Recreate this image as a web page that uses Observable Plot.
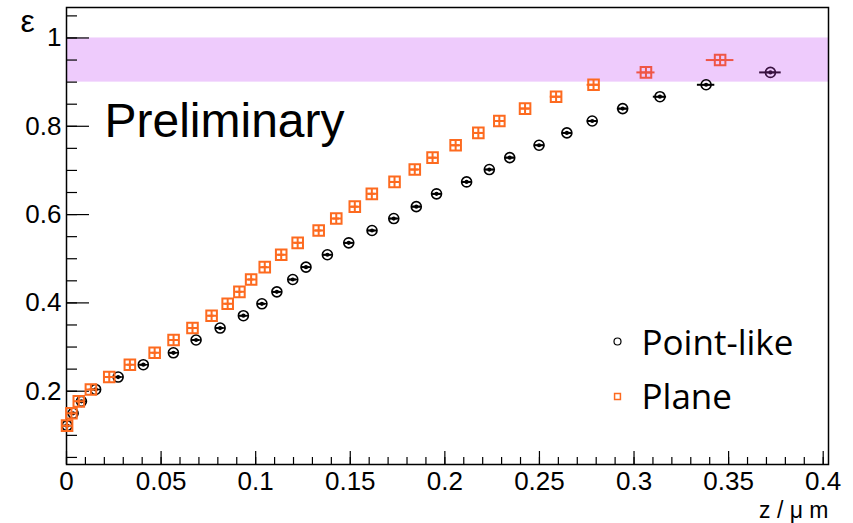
<!DOCTYPE html>
<html><head><meta charset="utf-8">
<script src="https://cdn.jsdelivr.net/npm/d3@7"></script>
<script src="https://cdn.jsdelivr.net/npm/@observablehq/plot@0.6"></script>
<style>body{margin:0;background:#fff;} #chart{width:853px;height:523px;}</style>
</head><body><div id="chart"></div>
<script>
// Efficiency levels (y) shared by both series
const effLevels = [0.122, 0.150, 0.177, 0.204, 0.232, 0.260, 0.287, 0.316, 0.343, 0.371,
  0.398, 0.425, 0.453, 0.481, 0.509, 0.536, 0.564, 0.591, 0.618, 0.647,
  0.674, 0.702, 0.729, 0.757, 0.785, 0.812, 0.840, 0.867, 0.894, 0.922, 0.950];
// Plane series: z positions and horizontal errors
const planeZ = [0.0003, 0.0026, 0.0065, 0.0129, 0.0226, 0.0335, 0.0466, 0.0566, 0.0666, 0.0767,
  0.0852, 0.0914, 0.0976, 0.1048, 0.1135, 0.1222, 0.1333, 0.1426, 0.1524, 0.1614,
  0.1734, 0.1841, 0.1935, 0.2057, 0.2177, 0.2288, 0.2424, 0.2588, 0.2786, 0.3063, 0.3455];
const planeZErr = [0.0008, 0.0008, 0.0010, 0.0010, 0.0012, 0.0012, 0.0013, 0.0013, 0.0014, 0.0014,
  0.0014, 0.0015, 0.0015, 0.0015, 0.0016, 0.0016, 0.0017, 0.0017, 0.0018, 0.0018,
  0.0019, 0.0020, 0.0020, 0.0021, 0.0022, 0.0023, 0.0025, 0.0031, 0.0034, 0.0048, 0.0073];
// Point-like series
const pointZ = [0.0003, 0.0035, 0.0079, 0.0154, 0.0273, 0.0406, 0.0565, 0.0685, 0.0812, 0.0935,
  0.1033, 0.1112, 0.1196, 0.1266, 0.1379, 0.1492, 0.1615, 0.1730, 0.1849, 0.1956,
  0.2115, 0.2235, 0.2343, 0.2498, 0.2645, 0.2779, 0.2940, 0.3137, 0.3381, 0.3721];
const pointZErr = [0.0015, 0.0015, 0.0016, 0.0016, 0.0017, 0.0017, 0.0018, 0.0018, 0.0019, 0.0019,
  0.0019, 0.0020, 0.0020, 0.0020, 0.0021, 0.0021, 0.0022, 0.0022, 0.0022, 0.0023,
  0.0023, 0.0024, 0.0024, 0.0025, 0.0025, 0.0026, 0.0028, 0.0035, 0.0046, 0.0057];
// Bins with low statistics (drawn in a different shade)
const planeLowStat = [29, 30];
const pointLowStat = [29];
// Target band
const bandRange = [0.9, 1.0];
// Axes
const xDomain = [0, 0.4028];
const yDomain = [0.034, 1.069];
const xMajorTicks = [0, 0.05, 0.1, 0.15, 0.2, 0.25, 0.3, 0.35, 0.4];
const yMajorTicks = [0.2, 0.4, 0.6, 0.8, 1];
const seriesNames = ["Point-like", "Plane"];

const W = 853, H = 523, mL = 66, mR = 25, mT = 7, mB = 59;
const frameW = W - mL - mR, frameH = H - mT - mB;

const plane = planeZ.map((z, i) => ({z, eff: effLevels[i], err: planeZErr[i], low: planeLowStat.includes(i)}));
const point = pointZ.map((z, i) => ({z, eff: effLevels[i], err: pointZErr[i], low: pointLowStat.includes(i)}));

const ORANGE = "#fd6a1f", RED = "#ef5646", BLACK = "#000", PURPLE = "#38113f";
const planeColor = d => d.low ? RED : ORANGE;
const pointColor = d => d.low ? PURPLE : BLACK;

const squareCross = {
  draw(ctx, size) {
    const r = Math.sqrt(size / Math.PI);
    ctx.moveTo(-r, -r); ctx.lineTo(r, -r); ctx.lineTo(r, r); ctx.lineTo(-r, r); ctx.closePath();
    ctx.moveTo(-r, 0); ctx.lineTo(r, 0);
    ctx.moveTo(0, -r); ctx.lineTo(0, r);
  }
};
const circleDot = {
  draw(ctx, size) {
    const r = Math.sqrt(size / Math.PI);
    ctx.moveTo(r, 0); ctx.arc(0, 0, r, 0, 2 * Math.PI);
    ctx.moveTo(-r, 0); ctx.lineTo(r, 0);
    ctx.moveTo(1.3, 0); ctx.arc(0, 0, 1.3, 0, 2 * Math.PI);
  }
};

const xMinor = d3.range(0, 41).map(i => i / 100);
const yMinor = d3.range(1, 22).map(i => +(i * 0.05).toFixed(2));

const chart = Plot.plot({
  width: W, height: H,
  marginLeft: mL, marginRight: mR, marginTop: mT, marginBottom: mB,
  x: {domain: xDomain},
  y: {domain: yDomain},
  style: {fontFamily: "'Liberation Sans', Arial, sans-serif", fontSize: "26px", background: "white", color: "black"},
  marks: [
    Plot.rect([bandRange], {y1: d => d[0], y2: d => d[1], fill: "#eecbfc"}),
    // inward ticks
    Plot.tickY(yMinor, {y: d => d, stroke: "black", strokeWidth: 1.2, insetRight: frameW - 11}),
    Plot.tickY(yMajorTicks, {y: d => d, stroke: "black", strokeWidth: 1.2, insetRight: frameW - 23}),
    Plot.tickX(xMinor, {x: d => d, stroke: "black", strokeWidth: 1.2, insetTop: frameH - 7}),
    Plot.tickX(xMajorTicks, {x: d => d, stroke: "black", strokeWidth: 1.2, insetTop: frameH - 13}),
    Plot.frame({stroke: "black", strokeWidth: 1.5}),
    Plot.axisX(xMajorTicks, {tickSize: 0, tickPadding: 7, label: null, tickFormat: d => String(d)}),
    Plot.axisY(yMajorTicks, {tickSize: 0, tickPadding: 5, label: null, tickFormat: d => String(d)}),
    // Point-like
    Plot.ruleY(point, {y: "eff", x1: d => d.z - d.err, x2: d => d.z + d.err, stroke: pointColor, strokeWidth: 2}),
    Plot.dot(point, {x: "z", y: "eff", symbol: circleDot, r: 5, stroke: pointColor, strokeWidth: 1.6, fill: "none"}),
    // Plane
    Plot.ruleY(plane, {y: "eff", x1: d => d.z - d.err, x2: d => d.z + d.err, stroke: planeColor, strokeWidth: 2}),
    Plot.dot(plane, {x: "z", y: "eff", symbol: squareCross, r: 5.3, stroke: planeColor, strokeWidth: 2, fill: "none"}),
    // Texts
    Plot.text(["Preliminary"], {frameAnchor: "top-left", dx: 38, dy: 129, textAnchor: "start", lineAnchor: "bottom", fontSize: 48}),
    Plot.text(["ε"], {frameAnchor: "top-left", dx: -39, dy: 24, textAnchor: "middle", lineAnchor: "bottom", fontSize: 32}),
    Plot.text(["z / μ m"], {frameAnchor: "bottom-right", dx: 0, dy: 53, textAnchor: "end", lineAnchor: "bottom", fontSize: 23}),
    // Legend
    Plot.dot([seriesNames[0]], {frameAnchor: "bottom-right", dx: -211, dy: -123, symbol: "circle", r: 3.5, stroke: BLACK, strokeWidth: 1.2}),
    Plot.dot([seriesNames[1]], {frameAnchor: "bottom-right", dx: -211, dy: -68, symbol: "square", r: 3.3, stroke: ORANGE, strokeWidth: 1.5}),
    Plot.text([seriesNames[0]], {frameAnchor: "bottom-right", dx: -187, dy: -110, textAnchor: "start", lineAnchor: "bottom", fontSize: 35, fontFamily: "'Open Sans', sans-serif"}),
    Plot.text([seriesNames[1]], {frameAnchor: "bottom-right", dx: -187, dy: -56, textAnchor: "start", lineAnchor: "bottom", fontSize: 35, fontFamily: "'Open Sans', sans-serif"})
  ]
});
document.getElementById("chart").appendChild(chart);
</script>
</body></html>
